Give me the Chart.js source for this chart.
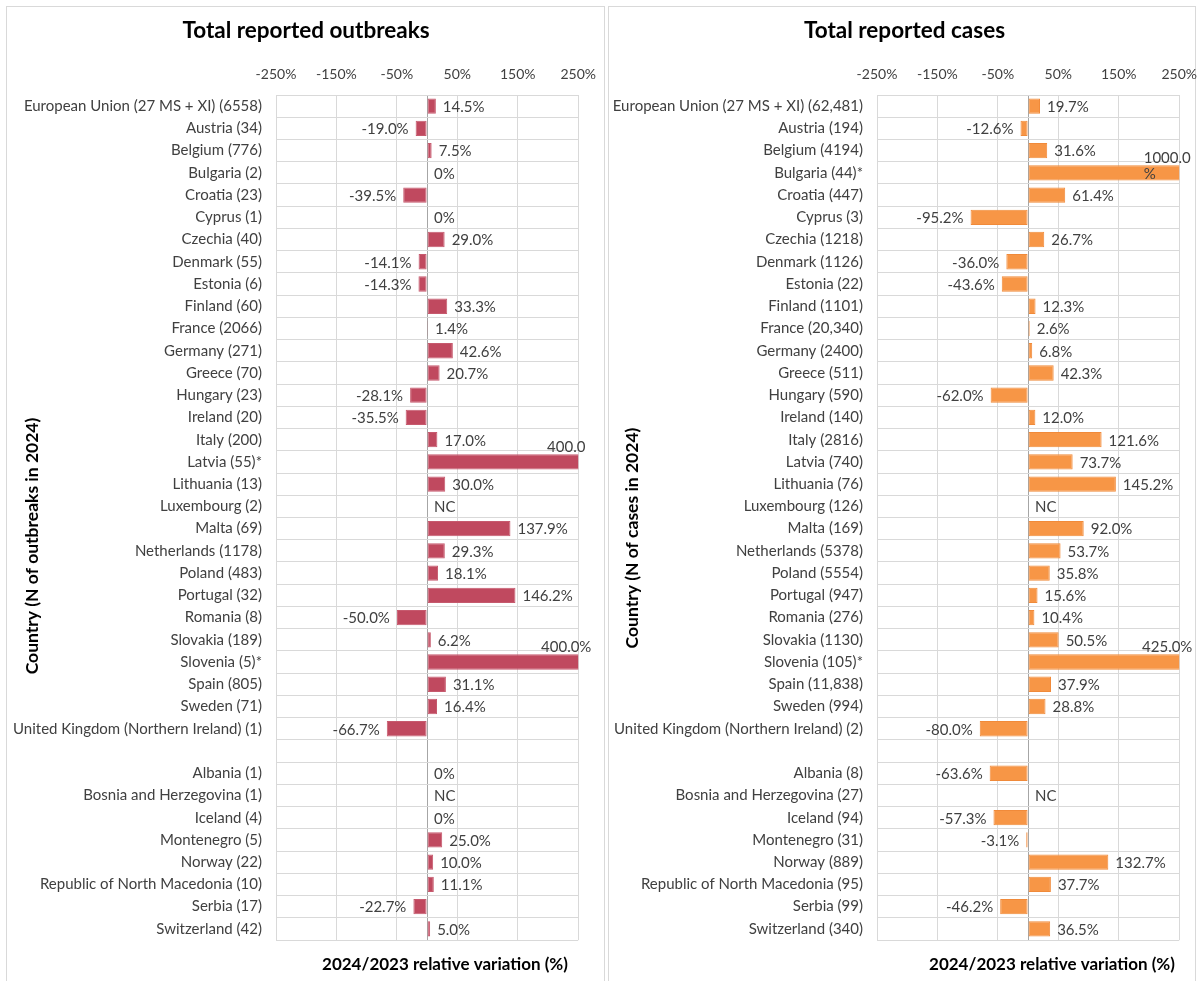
<!DOCTYPE html>
<html>
<head>
<meta charset="utf-8">
<script src="https://cdn.jsdelivr.net/npm/chart.js@4.4.1/dist/chart.umd.min.js"></script>
<style>
  body { margin: 0; background: #fff; width: 1200px; height: 981px; overflow: hidden; position: relative; }
  .panel { position: absolute; top: 6px; height: 1000px; border: 1px solid #d9d9d9; box-sizing: border-box; }
  canvas { position: absolute; top: 8px; }
</style>
</head>
<body>
<div class="panel" style="left:6px; width:599px;"></div>
<div class="panel" style="left:608px; width:588px;"></div>
<canvas id="outbreaks" width="596" height="973" style="left:8px;"></canvas>
<canvas id="cases" width="591" height="973" style="left:609px;"></canvas>
<script>
// Country rows (blank row splits EU/UK from the non-member countries)
const outbreakCountries = [
  'European Union (27 MS + XI) (6558)', 'Austria (34)', 'Belgium (776)', 'Bulgaria (2)', 'Croatia (23)',
  'Cyprus (1)', 'Czechia (40)', 'Denmark (55)', 'Estonia (6)', 'Finland (60)', 'France (2066)',
  'Germany (271)', 'Greece (70)', 'Hungary (23)', 'Ireland (20)', 'Italy (200)', 'Latvia (55)*',
  'Lithuania (13)', 'Luxembourg (2)', 'Malta (69)', 'Netherlands (1178)', 'Poland (483)',
  'Portugal (32)', 'Romania (8)', 'Slovakia (189)', 'Slovenia (5)*', 'Spain (805)', 'Sweden (71)',
  'United Kingdom (Northern Ireland) (1)', '',
  'Albania (1)', 'Bosnia and Herzegovina (1)', 'Iceland (4)', 'Montenegro (5)', 'Norway (22)',
  'Republic of North Macedonia (10)', 'Serbia (17)', 'Switzerland (42)'
];

const caseCountries = [
  'European Union (27 MS + XI) (62,481)', 'Austria (194)', 'Belgium (4194)', 'Bulgaria (44)*', 'Croatia (447)',
  'Cyprus (3)', 'Czechia (1218)', 'Denmark (1126)', 'Estonia (22)', 'Finland (1101)', 'France (20,340)',
  'Germany (2400)', 'Greece (511)', 'Hungary (590)', 'Ireland (140)', 'Italy (2816)', 'Latvia (740)',
  'Lithuania (76)', 'Luxembourg (126)', 'Malta (169)', 'Netherlands (5378)', 'Poland (5554)',
  'Portugal (947)', 'Romania (276)', 'Slovakia (1130)', 'Slovenia (105)*', 'Spain (11,838)', 'Sweden (994)',
  'United Kingdom (Northern Ireland) (2)', '',
  'Albania (8)', 'Bosnia and Herzegovina (27)', 'Iceland (94)', 'Montenegro (31)', 'Norway (889)',
  'Republic of North Macedonia (95)', 'Serbia (99)', 'Switzerland (340)'
];

// 2024/2023 relative variation (%), null = not computable
const outbreakChange = [
  14.5, -19.0, 7.5, 0, -39.5, 0, 29.0, -14.1, -14.3, 33.3, 1.4, 42.6, 20.7, -28.1, -35.5, 17.0, 400.0,
  30.0, null, 137.9, 29.3, 18.1, 146.2, -50.0, 6.2, 400.0, 31.1, 16.4, -66.7, null,
  0, null, 0, 25.0, 10.0, 11.1, -22.7, 5.0
];

const caseChange = [
  19.7, -12.6, 31.6, 1000.0, 61.4, -95.2, 26.7, -36.0, -43.6, 12.3, 2.6, 6.8, 42.3, -62.0, 12.0, 121.6, 73.7,
  145.2, null, 92.0, 53.7, 35.8, 15.6, 10.4, 50.5, 425.0, 37.9, 28.8, -80.0, null,
  -63.6, null, -57.3, -3.1, 132.7, 37.7, -46.2, 36.5
];

// bar labels as printed
const outbreakText = [
  '14.5%', '-19.0%', '7.5%', '0%', '-39.5%', '0%', '29.0%', '-14.1%', '-14.3%', '33.3%', '1.4%', '42.6%',
  '20.7%', '-28.1%', '-35.5%', '17.0%', '400.0', '30.0%', 'NC', '137.9%', '29.3%', '18.1%', '146.2%',
  '-50.0%', '6.2%', '400.0%', '31.1%', '16.4%', '-66.7%', '',
  '0%', 'NC', '0%', '25.0%', '10.0%', '11.1%', '-22.7%', '5.0%'
];

const caseText = [
  '19.7%', '-12.6%', '31.6%', '1000.0\n%', '61.4%', '-95.2%', '26.7%', '-36.0%', '-43.6%', '12.3%', '2.6%',
  '6.8%', '42.3%', '-62.0%', '12.0%', '121.6%', '73.7%', '145.2%', 'NC', '92.0%', '53.7%', '35.8%', '15.6%',
  '10.4%', '50.5%', '425.0%', '37.9%', '28.8%', '-80.0%', '',
  '-63.6%', 'NC', '-57.3%', '-3.1%', '132.7%', '37.7%', '-46.2%', '36.5%'
];

// x axis ticks; 0 gets no label but carries the darker zero line
const xTicks = [-250, -150, -50, 0, 50, 150, 250];

const FONT = 'Lato, "Open Sans", sans-serif';
const TEXT = '#404040';
const GRID = '#d9d9d9';

// value labels next to each bar; values past the axis max sit above the bar end
const barLabels = {
  id: 'barLabels',
  afterDatasetsDraw(chart, args, opts) {
    const ctx = chart.ctx;
    const area = chart.chartArea;
    const xs = chart.scales.x;
    const ys = chart.scales.y;
    const values = chart.data.datasets[0].data;
    const zero = xs.getPixelForValue(0);
    ctx.save();
    ctx.font = '15px ' + FONT;
    ctx.fillStyle = TEXT;
    ctx.textBaseline = 'middle';
    opts.texts.forEach(function (txt, i) {
      if (!txt) return;
      const v = values[i];
      const y = ys.getPixelForValue(i) + 1;
      if (v !== null && v > xs.max) {
        const lines = txt.split('\n');
        const w = ctx.measureText(lines[0]).width;
        ctx.textAlign = 'left';
        lines.forEach(function (line, k) {
          ctx.fillText(line, area.right - 12 - w / 2, y - 16 + k * 16);
        });
      } else if (v !== null && v < 0) {
        ctx.textAlign = 'right';
        ctx.fillText(txt, xs.getPixelForValue(v) - 7, y);
      } else {
        ctx.textAlign = 'left';
        ctx.fillText(txt, (v ? xs.getPixelForValue(v) : zero) + 7, y);
      }
    });
    ctx.restore();
  }
};

// y title (rotated, left) and x title (below the plot)
const axisCaptions = {
  id: 'axisCaptions',
  afterDraw(chart, args, opts) {
    const ctx = chart.ctx;
    const area = chart.chartArea;
    ctx.save();
    ctx.fillStyle = '#000';
    ctx.textAlign = 'center';
    ctx.textBaseline = 'middle';
    ctx.font = 'bold 17px ' + FONT;
    ctx.fillText(opts.xText, area.left + opts.xShift, area.bottom + 25);
    ctx.font = 'bold 17.5px ' + FONT;
    ctx.translate(opts.yX, opts.yY);
    ctx.rotate(-Math.PI / 2);
    ctx.fillText(opts.yText, 0, 0);
    ctx.restore();
  }
};

// tickPad also sets how much room the last tick label keeps on the right
function makeChart(id, title, categories, values, texts, color, edge, tickPad, captions) {
  const ctx = document.getElementById(id).getContext('2d');
  return new Chart(ctx, {
    type: 'bar',
    data: {
      labels: categories,
      datasets: [{
        data: values,
        backgroundColor: color,
        borderColor: edge,
        borderWidth: 1,
        borderSkipped: false,
        barPercentage: 0.69,
        categoryPercentage: 1
      }]
    },
    plugins: [barLabels, axisCaptions],
    options: {
      indexAxis: 'y',
      responsive: false,
      animation: false,
      layout: { padding: { top: 0, left: 0, right: 0, bottom: 41 } },
      plugins: {
        legend: { display: false },
        tooltip: { enabled: false },
        title: {
          display: true,
          text: title,
          color: '#000',
          font: { family: FONT, size: 22.5, weight: 'bold' },
          padding: { top: 9, bottom: 21 }
        },
        barLabels: { texts: texts },
        axisCaptions: captions
      },
      scales: {
        x: {
          position: 'top',
          min: -250,
          max: 250,
          afterBuildTicks: function (scale) {
            scale.ticks = xTicks.map(v => ({ value: v }));
          },
          afterFit: function (scale) { scale.height = 30; },
          ticks: {
            autoSkip: false,
            maxRotation: 0,
            padding: tickPad,
            color: TEXT,
            font: { family: FONT, size: 14 },
            callback: v => (v === 0 ? '' : v + '%')
          },
          grid: {
            drawTicks: true,
            tickLength: 12 - tickPad,
            tickColor: 'rgba(0,0,0,0)',
            color: c => (c.tick && c.tick.value === 0 ? '#a6a6a6' : GRID)
          },
          border: { display: false }
        },
        y: {
          afterFit: function (scale) { scale.width = 268; },
          ticks: {
            autoSkip: false,
            padding: 14,
            color: TEXT,
            font: { family: FONT, size: 15 }
          },
          grid: { offset: true, drawTicks: false, color: GRID },
          border: { display: false }
        }
      }
    }
  });
}

window.addEventListener('load', function () {
  makeChart('outbreaks', 'Total reported outbreaks', outbreakCountries, outbreakChange, outbreakText,
    '#C0495F', '#C65A6E', 8,
    { xText: '2024/2023 relative variation (%)', xShift: 169,
      yText: 'Country (N of outbreaks in 2024)', yX: 24, yY: 538 });
  makeChart('cases', 'Total reported cases', caseCountries, caseChange, caseText,
    '#F79646', '#F08A3A', 3,
    { xText: '2024/2023 relative variation (%)', xShift: 175,
      yText: 'Country (N of cases in 2024)', yX: 23, yY: 530 });
});
</script>
</body>
</html>
